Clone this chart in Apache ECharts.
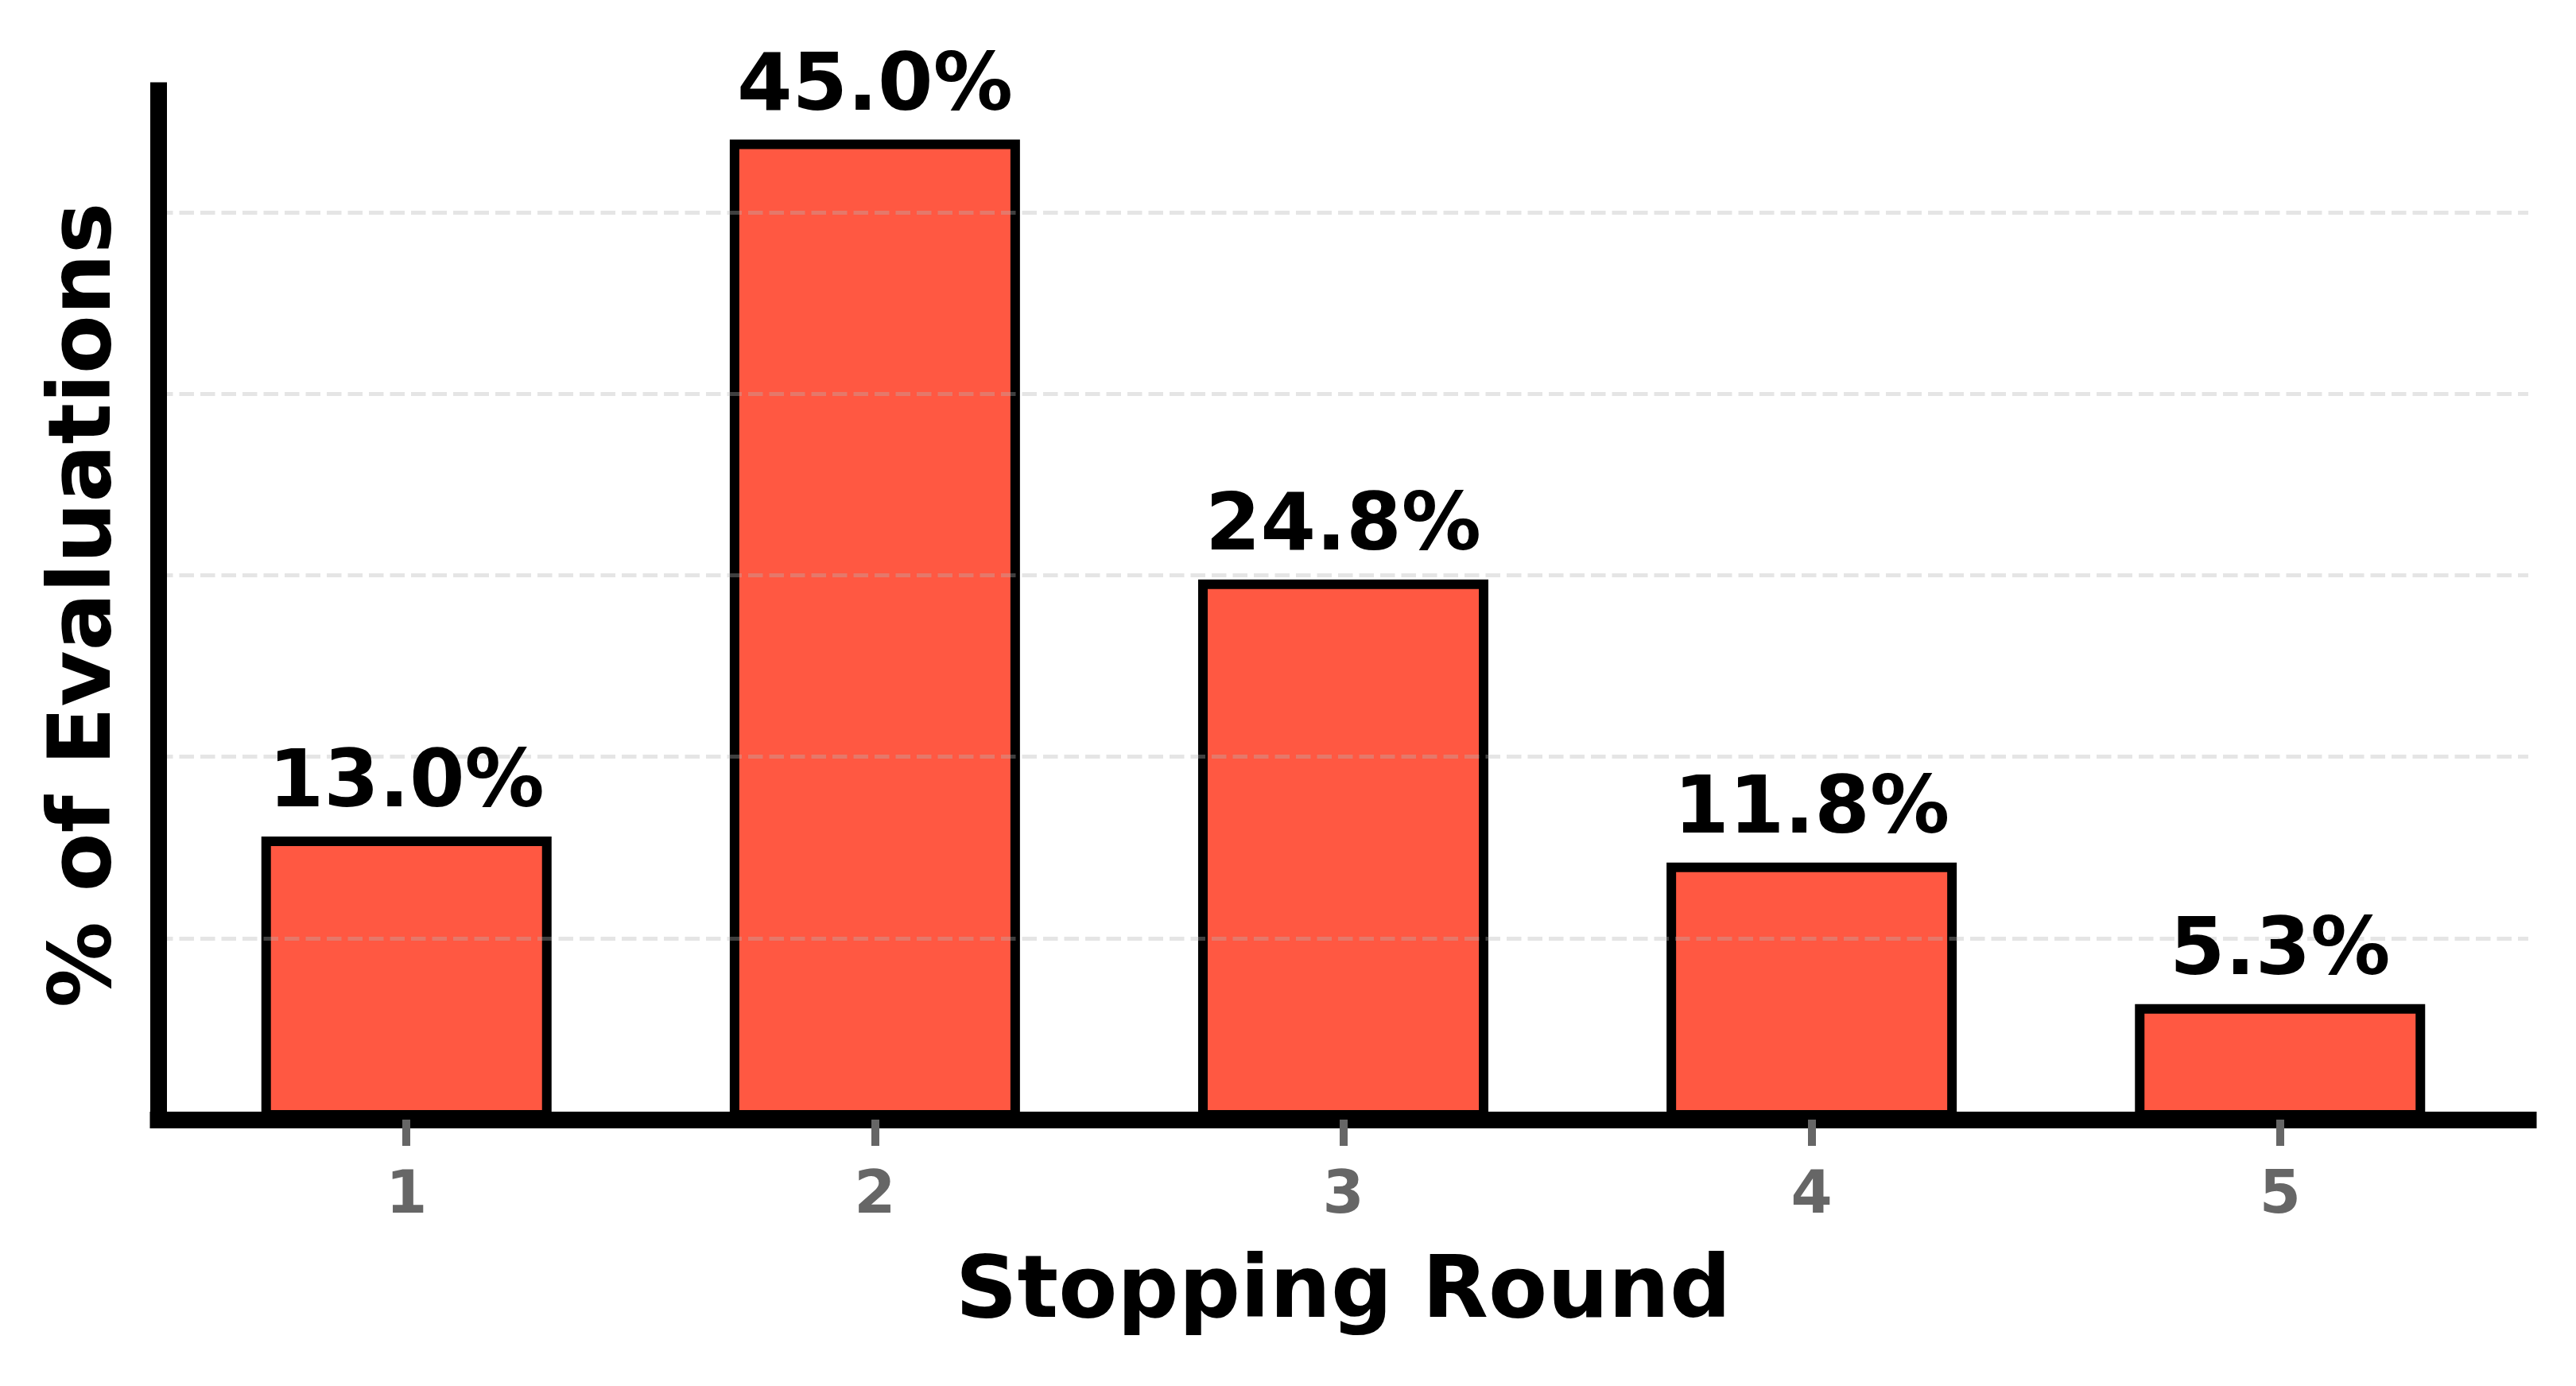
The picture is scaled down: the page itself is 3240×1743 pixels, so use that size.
<!DOCTYPE html>
<html>
<head>
<meta charset="utf-8">
<script src="https://cdn.jsdelivr.net/npm/echarts@6/dist/echarts.min.js"></script>
<style>
  html, body { margin: 0; padding: 0; background: #ffffff; }
  #chart { width: 3240px; height: 1743px; }
</style>
</head>
<body>
<div id="chart"></div>
<script>
const categories = ['1', '2', '3', '4', '5'];
const percentValues = [13.0, 45.0, 24.8, 11.8, 5.3];
const xAxisTitle = 'Stopping Round';
const yAxisTitle = '% of Evaluations';

const FONT = 'DejaVu Sans';
const barData = percentValues.map((v, i) => [i, v]);
const positions = categories.map((c, i) => i);

const chart = echarts.init(document.getElementById('chart'), null, { renderer: 'canvas' });
chart.setOption({
  animation: false,
  backgroundColor: '#ffffff',
  grid: { left: 199, top: 114, width: 2981, height: 1294, containLabel: false },
  xAxis: {
    type: 'value',
    min: -0.53,
    max: 4.53,
    z: 3,
    name: xAxisTitle,
    nameLocation: 'middle',
    nameGap: 166,
    nameTextStyle: { fontFamily: FONT, fontWeight: 'bold', fontSize: 108, color: '#000000' },
    axisLine: { show: true, onZero: false, lineStyle: { color: '#000000', width: 21, cap: 'square' } },
    axisTick: { show: true, customValues: positions, length: 33, lineStyle: { color: '#666666', width: 10 } },
    axisLabel: {
      show: true, customValues: positions, margin: 60,
      fontFamily: FONT, fontWeight: 'bold', fontSize: 75, color: '#666666',
      formatter: (v) => categories[Math.round(v)]
    },
    splitLine: { show: false }
  },
  yAxis: {
    type: 'value',
    min: 0,
    max: 47.25,
    interval: 25 / 3,
    z: 3,
    name: yAxisTitle,
    nameLocation: 'middle',
    nameGap: 35,
    nameTextStyle: { fontFamily: FONT, fontWeight: 'bold', fontSize: 108, color: '#000000' },
    axisLine: { show: true, onZero: false, lineStyle: { color: '#000000', width: 21, cap: 'square' } },
    axisTick: { show: false },
    axisLabel: { show: false },
    splitLine: {
      show: true, showMinLine: false, showMaxLine: false,
      lineStyle: { color: 'rgba(180,180,180,0.35)', width: 5, type: [18.5, 8] }
    }
  },
  series: [
    {
      type: 'bar',
      data: barData,
      barWidth: 365,
      z: 2,
      itemStyle: { color: '#FF5842', borderColor: '#000000', borderWidth: 12 },
      label: { show: false }
    },
    {
      type: 'bar',
      data: barData,
      barWidth: 365,
      barGap: '-100%',
      z: 4,
      itemStyle: { color: 'rgba(0,0,0,0)', borderWidth: 0 },
      label: {
        show: true, position: 'top', distance: 14,
        fontFamily: FONT, fontWeight: 'bold', fontSize: 100, color: '#000000',
        formatter: (p) => p.value[1].toFixed(1) + '%'
      }
    }
  ]
});
</script>
</body>
</html>
